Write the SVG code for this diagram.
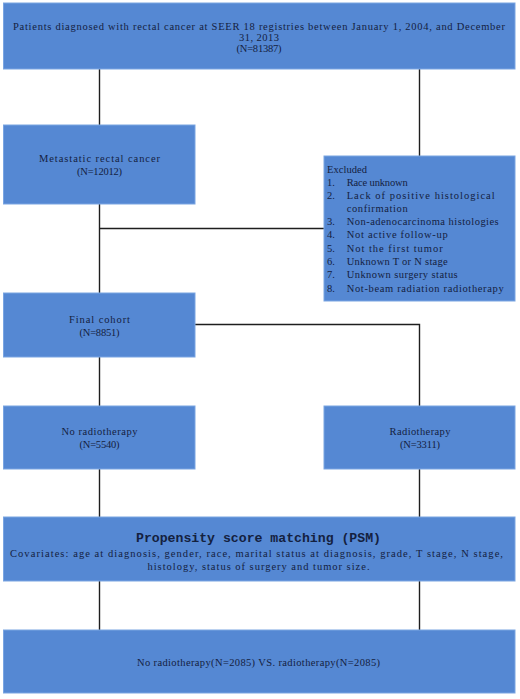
<svg xmlns="http://www.w3.org/2000/svg" width="520" height="699" viewBox="0 0 520 699">
<style>
.box{fill:#5588d3;stroke:#7aa5e2;stroke-width:1}
.t{font-family:"Liberation Serif","Times New Roman",serif;font-size:10.5px;fill:#14213f}
.c{text-anchor:middle}
.h{font-family:"Liberation Mono","Courier New",monospace;font-size:13.2px;font-weight:bold;fill:#14213f;text-anchor:middle}
.ln{stroke:#1e1e1e;stroke-width:1.4;fill:none}
</style>
<rect width="520" height="699" fill="#ffffff"/>
<g id="connectors">
<line class="ln" x1="99.5" y1="69" x2="99.5" y2="125"/>
<line class="ln" x1="419.5" y1="69" x2="419.5" y2="156"/>
<line class="ln" x1="99.5" y1="204" x2="99.5" y2="293"/>
<line class="ln" x1="99.5" y1="228.5" x2="324" y2="228.5"/>
<line class="ln" x1="99.5" y1="357" x2="99.5" y2="406"/>
<polyline class="ln" points="195,324.5 419.5,324.5 419.5,406"/>
<line class="ln" x1="99.5" y1="469" x2="99.5" y2="517"/>
<line class="ln" x1="419.5" y1="469" x2="419.5" y2="517"/>
<line class="ln" x1="99.5" y1="581" x2="99.5" y2="630"/>
<line class="ln" x1="419.5" y1="581" x2="419.5" y2="630"/>
</g>
<g id="top">
<rect class="box" x="3.5" y="3" width="511.5" height="66"/>
<text class="t c" x="259" y="29.5" textLength="492" lengthAdjust="spacing">Patients diagnosed with rectal cancer at SEER 18 registries between January 1, 2004, and December</text>
<text class="t c" x="259" y="40.5" textLength="40" lengthAdjust="spacing">31, 2013</text>
<text class="t c" x="259" y="51.5" textLength="45" lengthAdjust="spacing">(N=81387)</text>
</g>
<g id="metastatic">
<rect class="box" x="3.5" y="125" width="191.5" height="79"/>
<text class="t c" x="99.5" y="162" textLength="121" lengthAdjust="spacing">Metastatic rectal cancer</text>
<text class="t c" x="99.5" y="175" textLength="45" lengthAdjust="spacing">(N=12012)</text>
</g>
<g id="excluded">
<rect class="box" x="324" y="156" width="191" height="145"/>
<text class="t" x="327" y="172.5" textLength="40" lengthAdjust="spacing">Excluded</text>
<text class="t" x="327" y="185.5">1.</text><text class="t" x="346.7" y="185.5" textLength="61" lengthAdjust="spacing">Race unknown</text>
<text class="t" x="327" y="198.8">2.</text><text class="t" x="346.7" y="198.8" textLength="148" lengthAdjust="spacing">Lack of positive histological</text>
<text class="t" x="346.7" y="211.8" textLength="61" lengthAdjust="spacing">confirmation</text>
<text class="t" x="327" y="224.8">3.</text><text class="t" x="346.7" y="224.8" textLength="152" lengthAdjust="spacing">Non-adenocarcinoma histologies</text>
<text class="t" x="327" y="238.2">4.</text><text class="t" x="346.7" y="238.2" textLength="101" lengthAdjust="spacing">Not active follow-up</text>
<text class="t" x="327" y="251.5">5.</text><text class="t" x="346.7" y="251.5" textLength="96" lengthAdjust="spacing">Not the first tumor</text>
<text class="t" x="327" y="264.8">6.</text><text class="t" x="346.7" y="264.8" textLength="101" lengthAdjust="spacing">Unknown T or N stage</text>
<text class="t" x="327" y="278.2">7.</text><text class="t" x="346.7" y="278.2" textLength="111" lengthAdjust="spacing">Unknown surgery status</text>
<text class="t" x="327" y="291.5">8.</text><text class="t" x="346.7" y="291.5" textLength="157" lengthAdjust="spacing">Not-beam radiation radiotherapy</text>
</g>
<g id="final-cohort">
<rect class="box" x="3.5" y="293" width="191.5" height="64"/>
<text class="t c" x="99.5" y="322.5" textLength="61" lengthAdjust="spacing">Final cohort</text>
<text class="t c" x="99.5" y="335.8" textLength="40" lengthAdjust="spacing">(N=8851)</text>
</g>
<g id="no-radiotherapy">
<rect class="box" x="3.5" y="406" width="191.5" height="63"/>
<text class="t c" x="99.5" y="434.8" textLength="76" lengthAdjust="spacing">No radiotherapy</text>
<text class="t c" x="99.5" y="447.8" textLength="40" lengthAdjust="spacing">(N=5540)</text>
</g>
<g id="radiotherapy">
<rect class="box" x="324" y="406" width="191" height="63"/>
<text class="t c" x="420" y="434.8" textLength="61" lengthAdjust="spacing">Radiotherapy</text>
<text class="t c" x="420" y="447.8" textLength="40" lengthAdjust="spacing">(N=3311)</text>
</g>
<g id="psm">
<rect class="box" x="3.5" y="517" width="511.5" height="64"/>
<text class="h" x="258.5" y="542" textLength="245" lengthAdjust="spacing">Propensity score matching (PSM)</text>
<text class="t c" x="256.5" y="557" textLength="493" lengthAdjust="spacing">Covariates: age at diagnosis, gender, race, marital status at diagnosis, grade, T stage, N stage,</text>
<text class="t c" x="258.5" y="569.5" textLength="222" lengthAdjust="spacing">histology, status of surgery and tumor size.</text>
</g>
<g id="matched">
<rect class="box" x="3.5" y="630" width="511.5" height="63"/>
<text class="t c" x="258.5" y="665.5" textLength="243" lengthAdjust="spacing">No radiotherapy(N=2085) VS. radiotherapy(N=2085)</text>
</g>
</svg>
